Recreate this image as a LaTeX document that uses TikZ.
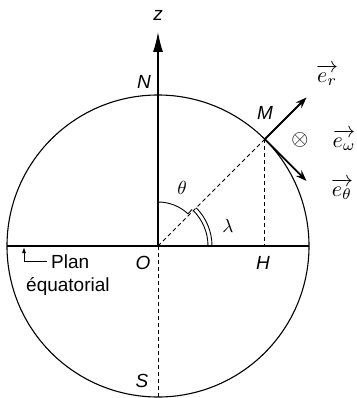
\documentclass[tikz,border=0pt]{standalone}
\usepackage{amsmath, amssymb}
\usepackage{fontspec}
\setsansfont{Liberation Sans}
\usetikzlibrary{calc, arrows.meta}
\begin{document}
\begin{tikzpicture}[x=1pt, y=-1pt,
    pointlabel/.style={font=\fontsize{19}{21}\selectfont\sffamily\itshape},
    plaintext/.style={font=\fontsize{19}{21}\selectfont\sffamily, inner sep=0pt, anchor=west},
    mathlabel/.style={scale=1.9, transform shape, inner sep=0pt},
    vectlabel/.style={scale=2.2, transform shape, inner sep=0pt},
    basevect/.style={line width=1.8pt, -{Stealth[length=11pt,width=8pt]}},
    dashline/.style={dashed, dash pattern=on 4pt off 3pt, line width=0.9pt} ]
    \useasboundingbox (0,0) rectangle (356,398);
    \coordinate (O) at (158,246);
    \coordinate (M) at ($(O)+(-45:151)$);
    \coordinate (H) at (M |- O);
    \coordinate (S) at ($(O)+(0,151)$);
    \coordinate (W) at ($(O)+(-151,0)$);
    \coordinate (E) at ($(O)+(151,0)$);
    \coordinate (ztip) at (158,32);
    \draw [line width=1.1pt] (O) circle [radius=151];
    \draw [line width=1.1pt] (W) to (E);
    \draw [line width=1.2pt, -{Latex[length=20pt,width=10pt]}] (O) to (ztip);
    \draw [dashline] (O) to (S);
    \draw [dashline] (O) to (M);
    \draw [dashline] (M) to (H);
    \draw [line width=0.9pt] ($(O)+(-90:44)$) arc [start angle=-90, end angle=-47, radius=44]
      -- ($(O)+(-47:50)$);
    \draw [line width=0.9pt] ($(O)+(-45:50)$) arc [start angle=-45, end angle=0, radius=50];
    \draw [line width=0.9pt] ($(O)+(-45:54)$) arc [start angle=-45, end angle=0, radius=54];
    \coordinate (er) at ($(M)+(-45:59)$);
    \coordinate (eth) at ($(M)+(45:59)$);
    \draw [basevect] (M) to (er);
    \draw [basevect] (M) to (eth);
    \node at (158,15) [pointlabel] (zlab) {z};
    \node at (144,82) [pointlabel] (Nlab) {N};
    \node at (265,113) [pointlabel] (Mlab) {M};
    \node at (143,263) [pointlabel] (Olab) {O};
    \node at (263,263) [pointlabel] (Hlab) {H};
    \node at (142,381) [pointlabel] (Slab) {S};
    \node at (182,188) [mathlabel] (thlab) {$\theta$};
    \node at (228,226) [mathlabel] (lalab) {$\lambda$};
    \node at (300,140) [vectlabel] (ephi) {$\otimes$};
    \node at (327,75) [vectlabel] (erlab) {$\overrightarrow{e_r}$};
    \node at (344,140) [vectlabel] (eolab) {$\overrightarrow{e_\omega}$};
    \node at (342,189) [vectlabel] (etlab) {$\overrightarrow{e_\theta}$};
    \coordinate (pa) at (24,247);
    \coordinate (pb) at (24,261);
    \coordinate (pc) at (47,261);
    \draw [line width=0.9pt, {Latex[length=6pt,width=4pt]}-] (pa) -- (pb) -- (pc);
    \node at (51,262) [plaintext] (plan) {Plan};
    \node at (26,286) [plaintext] (equat) {équatorial};
\end{tikzpicture}
\end{document}
